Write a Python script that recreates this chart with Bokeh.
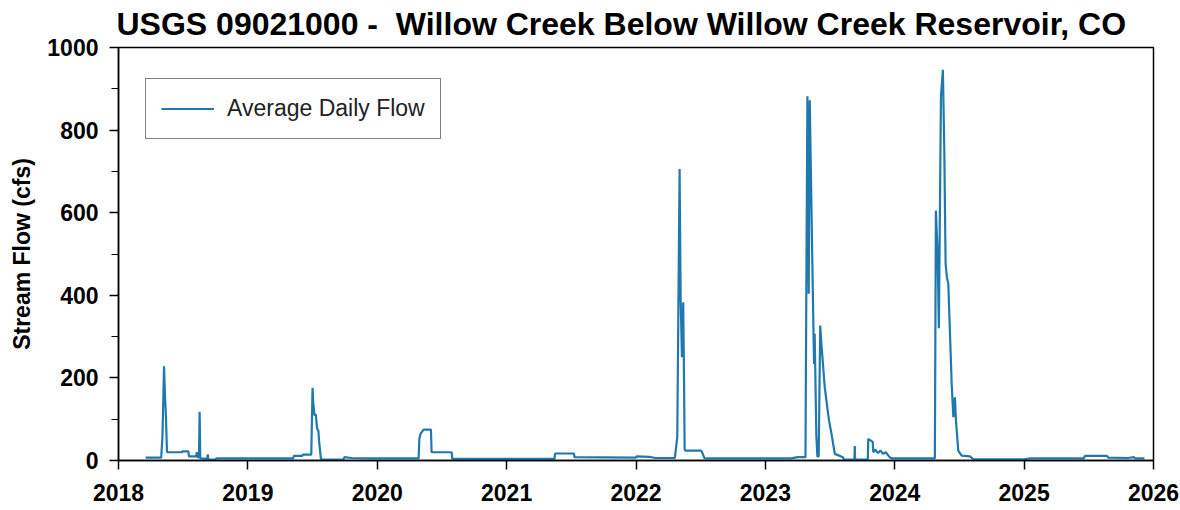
from bokeh.plotting import figure
from bokeh.models import Range1d, FixedTicker, Legend, LegendItem, ColumnDataSource
from bokeh.embed import file_html
from bokeh.resources import INLINE

# Decimal-year dates and average daily flow (cfs)
years = [
    2018.21, 2018.33, 2018.34, 2018.352, 2018.36, 2018.365, 2018.375, 2018.49, 2018.495, 2018.54,
    2018.545, 2018.60, 2018.605, 2018.61, 2018.622, 2018.627, 2018.632, 2018.685, 2018.69, 2018.695,
    2018.75, 2018.755, 2019.35, 2019.355, 2019.42, 2019.425, 2019.49, 2019.50, 2019.505, 2019.515,
    2019.525, 2019.535, 2019.545, 2019.55, 2019.565, 2019.74, 2019.745, 2019.80, 2019.95, 2020.32,
    2020.325, 2020.335, 2020.36, 2020.415, 2020.42, 2020.575, 2020.58, 2021.37, 2021.375, 2021.52,
    2021.525, 2022.00, 2022.005, 2022.10, 2022.15, 2022.30, 2022.31, 2022.319, 2022.337, 2022.345,
    2022.355, 2022.365, 2022.371, 2022.376, 2022.38, 2022.505, 2022.53, 2023.20, 2023.25, 2023.31,
    2023.318, 2023.325, 2023.335, 2023.343, 2023.362, 2023.376, 2023.381, 2023.394, 2023.402, 2023.412,
    2023.424, 2023.433, 2023.459, 2023.485, 2023.492, 2023.511, 2023.524, 2023.537, 2023.60, 2023.605,
    2023.688, 2023.691, 2023.694, 2023.792, 2023.795, 2023.83, 2023.834, 2023.85, 2023.87, 2023.89,
    2023.91, 2023.93, 2023.96, 2023.98, 2024.31, 2024.318, 2024.331, 2024.341, 2024.357, 2024.372,
    2024.383, 2024.393, 2024.403, 2024.414, 2024.44, 2024.453, 2024.465, 2024.473, 2024.491, 2024.517,
    2024.581, 2024.608, 2025.00, 2025.05, 2025.46, 2025.47, 2025.64, 2025.65, 2025.80, 2025.85,
    2025.86, 2025.93,
]
flow = [
    7, 7, 60, 228, 150, 120, 20, 20, 22, 22,
    10, 10, 20, 8, 8, 118, 5, 4, 15, 2,
    2, 5, 5, 11, 11, 14, 14, 176, 141, 109,
    112, 77, 72, 48, 2, 2, 8, 6, 5, 5,
    52, 65, 75, 75, 20, 20, 4, 4, 17, 17,
    8, 7, 10, 9, 6, 6, 32, 56, 706, 395,
    250, 383, 202, 28, 24, 24, 5, 5, 8, 8,
    500, 882, 404, 872, 500, 234, 307, 60, 10, 10,
    327, 282, 177, 113, 97, 65, 40, 16, 8, 2,
    2, 35, 2, 2, 52, 45, 20, 26, 18, 24,
    16, 20, 8, 5, 5, 605, 508, 320, 880, 946,
    750, 477, 444, 428, 186, 105, 153, 97, 24, 12,
    10, 3, 3, 5, 5, 11, 11, 7, 6, 8,
    5, 5,
]

x_ticks = [2018, 2019, 2020, 2021, 2022, 2023, 2024, 2025, 2026]
x_tick_labels = ["2018", "2019", "2020", "2021", "2022", "2023", "2024", "2025", "2026"]
y_ticks = [0, 200, 400, 600, 800, 1000]
y_minor = [100, 300, 500, 700, 900]

FONT = "Liberation Sans"
LINE = "#1f79af"

p = figure(width=1180, height=510, x_range=Range1d(2018, 2026), y_range=Range1d(0, 1000),
           output_backend="svg", toolbar_location=None,
           min_border_left=118, min_border_right=27, min_border_top=47, min_border_bottom=50)

p.title.text = "USGS 09021000 -\u00a0 Willow Creek Below Willow Creek Reservoir, CO"
p.title.text_font = FONT
p.title.text_font_size = "32px"
p.title.text_font_style = "bold"
p.title.text_line_height = 1.0
p.title.align = "left"
p.title.offset = -2
p.title.vertical_align = "top"
p.title.standoff = 8
p.title.text_color = "black"

p.grid.visible = False
p.outline_line_color = "black"
p.outline_line_width = 1.5
p.background_fill_color = "white"
p.border_fill_color = "white"

src = ColumnDataSource(dict(x=years, y=flow))
r = p.line("x", "y", source=src, line_color=LINE, line_width=2.2)

xa = p.xaxis[0]
xa.ticker = FixedTicker(ticks=x_ticks)
xa.major_label_overrides = {t: l for t, l in zip(x_ticks, x_tick_labels)}
ya = p.yaxis[0]
ya.ticker = FixedTicker(ticks=y_ticks, minor_ticks=y_minor)
ya.axis_label = "Stream Flow (cfs)"

for ax in (xa, ya):
    ax.axis_line_color = "black"
    ax.axis_line_width = 1.5
    ax.major_tick_line_color = "black"
    ax.major_tick_line_width = 1.5
    ax.major_tick_in = 0
    ax.major_tick_out = 9
    ax.minor_tick_line_color = "black"
    ax.minor_tick_line_width = 1.2
    ax.minor_tick_in = 0
    ax.minor_tick_out = 7
    ax.major_label_text_font = FONT
    ax.major_label_text_font_size = "23px"
    ax.major_label_text_font_style = "bold"
    ax.major_label_text_color = "black"
    ax.axis_label_text_font = FONT
    ax.axis_label_text_font_size = "23px"
    ax.axis_label_text_font_style = "bold"
    ax.axis_label_text_color = "black"
xa.minor_tick_line_color = None
xa.major_label_standoff = 14
ya.major_label_standoff = 11
ya.axis_label_standoff = 9

legend = Legend(items=[LegendItem(label="Average Daily Flow", renderers=[r])],
                location=(27, 321), glyph_width=53, glyph_height=29, padding=15,
                label_standoff=13, spacing=0, margin=0,
                border_line_color="black", border_line_width=1.5,
                background_fill_color="white", background_fill_alpha=1.0,
                label_text_font=FONT, label_text_font_size="23px", label_text_color="#222222")
p.add_layout(legend)

open("out.html", "w").write(file_html(p, INLINE))
